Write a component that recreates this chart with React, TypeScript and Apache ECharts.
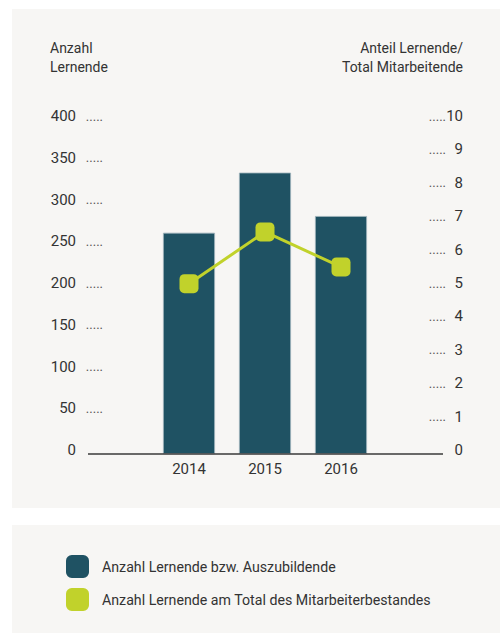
import React, { useEffect, useRef } from "react";
import * as echarts from "echarts";

const years = ["2014", "2015", "2016"];
const lernende = [265, 337, 285];
const anteil = [5.1, 6.65, 5.6];
const leftTicks = { min: 0, max: 400, interval: 50 };
const rightTicks = { min: 0, max: 10, interval: 1 };
const seriesNames = [
  "Anzahl Lernende bzw. Auszubildende",
  "Anzahl Lernende am Total des Mitarbeiterbestandes",
];
const leftTitle = "Anzahl\nLernende";
const rightTitle = "Anteil Lernende/\nTotal Mitarbeitende";

const FONT = "Roboto, 'Noto Sans', sans-serif";
const BAR = "#1f5263";
const LINE = "#c1d22b";
const PANEL = "#f7f6f4";
const TEXT = "#333333";

export default function App() {
  const ref = useRef<HTMLDivElement>(null);
  useEffect(() => {
    if (!ref.current) return;
    const chart = echarts.init(ref.current, null, { renderer: "svg" });
    chart.setOption({
      animation: false,
      backgroundColor: "#ffffff",
      textStyle: { fontFamily: FONT },
      graphic: [
        { type: "rect", z: -10, shape: { x: 12, y: 9, width: 488, height: 499 }, style: { fill: PANEL } },
        { type: "rect", z: -10, shape: { x: 12, y: 525, width: 488, height: 108 }, style: { fill: PANEL } },
        {
          type: "text", x: 50, y: 38,
          style: { text: leftTitle, font: `14px ${FONT}`, lineHeight: 19.5, fill: TEXT, textAlign: "left" },
        },
        {
          type: "text", x: 463, y: 38,
          style: { text: rightTitle, font: `14px ${FONT}`, lineHeight: 19.5, fill: TEXT, textAlign: "right" },
        },
        {
          type: "line", z: 10,
          shape: { x1: 88, y1: 454, x2: 443, y2: 454 },
          style: { stroke: "#3a3a3a", lineWidth: 1.3 },
        },
      ],
      grid: { left: 151, right: 121, top: 120, bottom: 179, containLabel: false },
      legend: {
        orient: "vertical",
        left: 66,
        top: 555,
        padding: 0,
        itemWidth: 23,
        itemHeight: 23,
        itemGap: 10,
        icon: "roundRect",
        itemStyle: { borderWidth: 0 },
        data: seriesNames,
        textStyle: { fontSize: 14.2, color: TEXT, fontFamily: FONT, padding: [0, 0, 0, 8] },
      },
      xAxis: {
        type: "category",
        data: years,
        axisLine: { show: false },
        axisTick: { show: false },
        axisLabel: { margin: 7, fontSize: 15, color: TEXT, fontFamily: FONT },
      },
      yAxis: [
        {
          type: "value",
          position: "left",
          ...leftTicks,
          axisLine: { show: false },
          axisTick: { show: false },
          splitLine: { show: false },
          axisLabel: {
            margin: 48,
            padding: [0, 0, 8, 0],
            formatter: (v: number) => (v === 0 ? `{n|0}{d|}` : `{n|${v}}{d|.....}`),
            rich: {
              n: { width: 27, align: "right", fontSize: 15, color: TEXT, fontFamily: FONT },
              d: { width: 27, align: "right", fontSize: 13, color: "#555", fontFamily: FONT },
            },
          },
        },
        {
          type: "value",
          position: "right",
          ...rightTicks,
          axisLine: { show: false },
          axisTick: { show: false },
          splitLine: { show: false },
          axisLabel: {
            margin: 47,
            padding: [0, 0, 8, 0],
            formatter: (v: number) => (v === 0 ? `{d|}{n|0}` : `{d|.....}{n|${v}}`),
            rich: {
              d: { width: 20, align: "right", fontSize: 13, color: "#555", fontFamily: FONT },
              n: { width: 17, align: "right", fontSize: 15, color: TEXT, fontFamily: FONT },
            },
          },
        },
      ],
      series: [
        {
          name: seriesNames[0],
          type: "bar",
          data: lernende,
          barWidth: 52,
          itemStyle: { color: BAR, borderColor: "#9fb4bb", borderWidth: 0.8 },
        },
        {
          name: seriesNames[1],
          type: "line",
          yAxisIndex: 1,
          data: anteil,
          symbol: "roundRect",
          symbolSize: 19,
          lineStyle: { color: LINE, width: 3 },
          itemStyle: { color: LINE },
          z: 5,
        },
      ],
    });
    return () => chart.dispose();
  }, []);
  return (
    <div style={{ position: "fixed", left: 0, top: 0, width: 500, height: 633 }}>
      <div ref={ref} style={{ width: 500, height: 633 }} />
    </div>
  );
}
